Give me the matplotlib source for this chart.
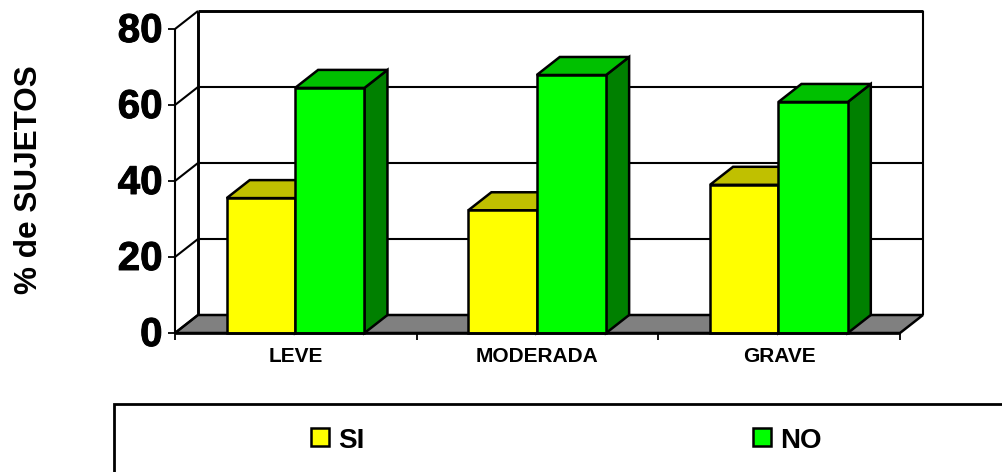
import matplotlib
matplotlib.use("Agg")
import matplotlib.pyplot as plt
import matplotlib.patheffects as pe
from matplotlib.patches import Polygon, Rectangle
from matplotlib.lines import Line2D
from matplotlib.transforms import ScaledTranslation

categories = ["LEVE", "MODERADA", "GRAVE"]
si_values = [35.5, 32.3, 39.0]
no_values = [64.5, 67.9, 60.8]
y_ticks = [0, 20, 40, 60, 80]

W, H = 1003, 472
L, R, T, B = 175, 900, 29, 333
DX, DY = 23, 18
BLK = "#000000"

plt.rcParams["font.family"] = ["Liberation Sans", "DejaVu Sans"]
fig = plt.figure(figsize=(W / 100, H / 100), dpi=100, facecolor="white")
ax = fig.add_axes([L / W, 1 - B / H, (R - L) / W, (B - T) / H])
ax.set_xlim(0, 3)
ax.set_ylim(0, 80)
ax.patch.set_visible(False)
for s in ax.spines.values():
    s.set_visible(False)

dx = DX * 3 / (R - L)
dy = DY * 80 / (B - T)


def poly(pts, fc, z, lw=1.8):
    ax.add_patch(Polygon(pts, closed=True, fc=fc, ec=BLK, lw=lw, joinstyle="miter",
                         zorder=z, clip_on=False))


def line(xs, ys, z=2, lw=1.5):
    ax.add_line(Line2D(xs, ys, color=BLK, lw=lw, zorder=z, clip_on=False,
                       solid_capstyle="butt"))


# floor and walls
poly([(0, 0), (3, 0), (3 + dx, dy), (dx, dy)], "#808080", 1)
line([3 + dx, 3 + dx], [dy, 80 + dy], z=1.6, lw=1.5)
line([dx, dx], [dy, 80 + dy], z=1.6, lw=2.1)
line([dx, 3 + dx], [80 + dy, 80 + dy], z=1.6, lw=2.1)
for v in y_ticks[1:-1]:
    line([dx, 3 + dx], [v + dy, v + dy], z=1.6, lw=1.5)
for v in y_ticks:
    line([0, dx], [v, v + dy], z=1.6, lw=1.5)


def bar3d(x0, x1, h, front, top, side, z):
    poly([(x1, 0), (x1 + dx, dy), (x1 + dx, h + dy), (x1, h)], side, z)
    poly([(x0, h), (x1, h), (x1 + dx, h + dy), (x0 + dx, h + dy)], top, z)
    poly([(x0, 0), (x1, 0), (x1, h), (x0, h)], front, z + 0.1)


for i, (a, b) in enumerate(zip(si_values, no_values)):
    bar3d(i + 0.214, i + 0.497, a, "#ffff00", "#c0c000", "#808000", 3 + i)
    bar3d(i + 0.497, i + 0.784, b, "#00ff00", "#00c000", "#008000", 3.5 + i)

# front axes
line([0, 3], [0, 0], z=8, lw=1.9)
line([0, 0], [0, 80], z=8, lw=1.5)

ax.set_xticks([0, 1, 2, 3])
ax.set_xticklabels([])
ax.set_xticks([0.5, 1.5, 2.5], minor=True)
ax.set_xticklabels(categories, minor=True, fontsize=15, fontweight="bold")
ax.tick_params(axis="x", which="major", length=5, width=1.3, direction="out", color=BLK)
ax.tick_params(axis="x", which="minor", length=0, pad=10)
ax.set_yticks(y_ticks)
ax.set_yticklabels([str(v) for v in y_ticks], fontsize=29, fontweight="bold")
ax.tick_params(axis="y", length=5, width=1.3, direction="out", color=BLK, pad=4)
shift = ScaledTranslation(0, 2 / 100, fig.dpi_scale_trans)
for lab in ax.get_yticklabels():
    lab.set_transform(lab.get_transform() + shift)
    lab.set_path_effects([pe.withStroke(linewidth=0.7, foreground=BLK)])

fig.text(29 / W, 1 - 180 / H, "% de SUJETOS", rotation=90, ha="center", va="center",
         fontsize=22.7, fontweight="bold")

# legend box, running off the right and bottom edges
fig.add_artist(Line2D([114 / W, 114 / W, 1], [0, 1 - 404 / H, 1 - 404 / H],
                      color=BLK, lw=2.0, solid_joinstyle="miter"))
legend_labels = ["SI", "NO"]
legend_colors = ["#ffff00", "#00ff00"]
for px, label, col in zip([311, 753], legend_labels, legend_colors):
    fig.add_artist(Rectangle((px / W, 1 - 446 / H), 18 / W, 18 / H, transform=fig.transFigure,
                             fc=col, ec=BLK, lw=1.8))
    fig.text((px + 27) / W, 1 - 438 / H, label, ha="left", va="center_baseline",
             fontsize=20, fontweight="bold")

fig.savefig("out.png", dpi=100)
